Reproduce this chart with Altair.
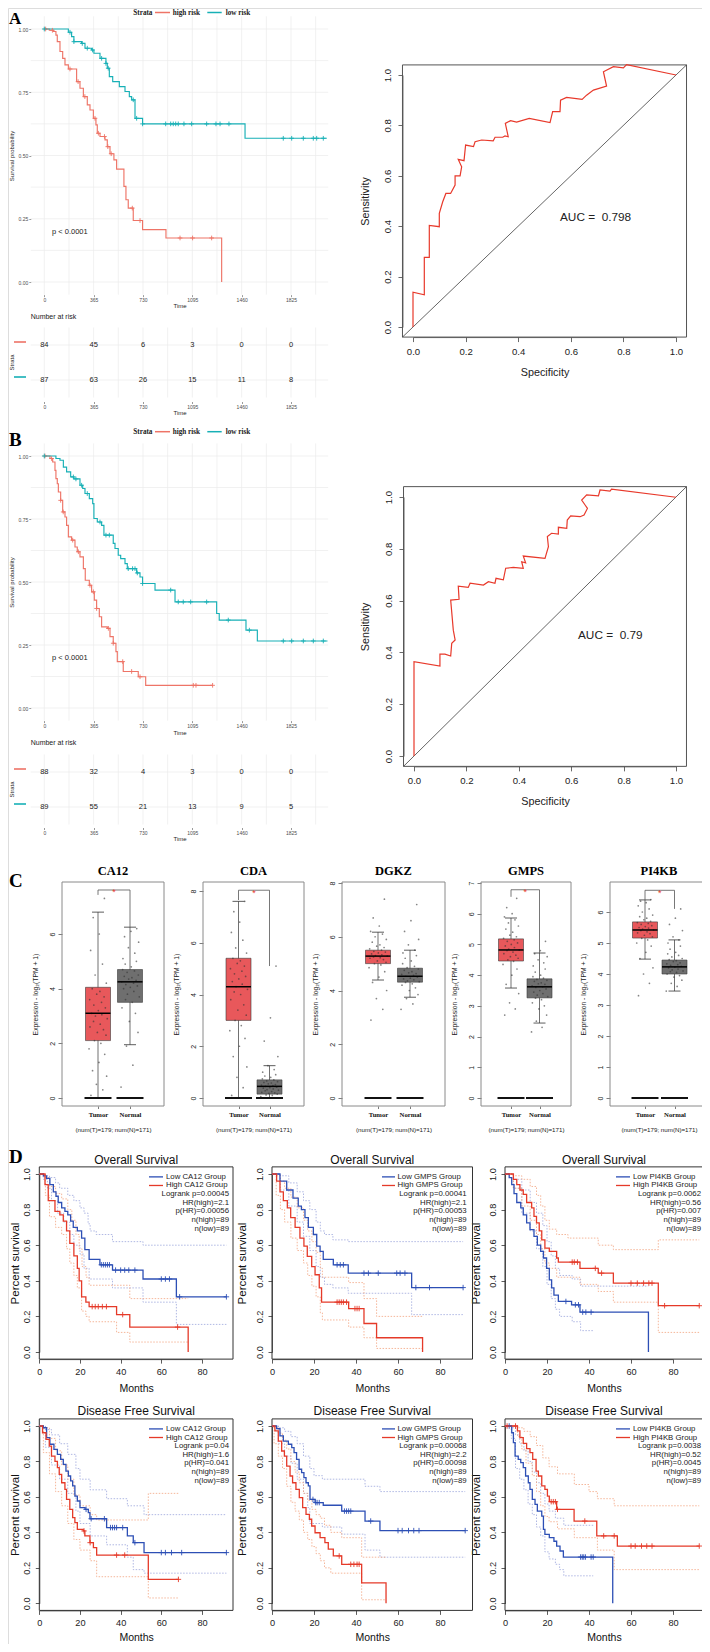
import altair as alt
import pandas as pd

# ======================= DATA =======================
# ---- Panels A / B : Kaplan-Meier (days) ----
KM_TICKS = [0, 365, 730, 1095, 1460, 1825]
KM_SURV_TICKS = [0, 0.25, 0.5, 0.75, 1.0]
STRATA = ["high risk", "low risk"]

A_high = [(0, 1.0), (37, 0.995), (67, 0.99), (86, 0.976), (96, 0.95), (116, 0.911), (136, 0.884), (153, 0.858),
          (178, 0.842), (239, 0.792), (264, 0.766), (289, 0.733), (318, 0.70), (338, 0.68), (363, 0.647),
          (382, 0.621), (392, 0.588), (412, 0.575), (449, 0.562), (466, 0.535), (486, 0.507), (515, 0.483),
          (535, 0.446), (589, 0.378), (604, 0.325), (621, 0.292), (658, 0.243), (727, 0.207), (900, 0.174),
          (1312, 0.0)]
A_high_cens = [10, 60, 190, 250, 300, 375, 400, 445, 470, 495, 651, 708, 1004, 1097, 1238]
A_low = [(0, 1.0), (178, 0.987), (202, 0.97), (219, 0.95), (276, 0.943), (301, 0.924), (350, 0.917), (367, 0.904),
         (412, 0.884), (456, 0.864), (466, 0.845), (481, 0.812), (506, 0.792), (555, 0.772), (597, 0.753),
         (629, 0.733), (646, 0.72), (671, 0.647), (727, 0.625), (1485, 0.568), (2090, 0.568)]
A_low_cens = [0, 190, 219, 281, 318, 357, 424, 456, 473, 658, 683, 727, 898, 935, 954, 972, 991, 1033, 1090, 1201,
              1270, 1300, 1366, 1768, 1830, 1916, 1990, 2015, 2064]
A_risk_high = [84, 45, 6, 3, 0, 0]
A_risk_low = [87, 63, 26, 15, 11, 8]
A_pval = "p < 0.0001"

B_high = [(0, 1.0), (42, 0.99), (62, 0.976), (79, 0.943), (86, 0.91), (96, 0.89), (104, 0.857), (121, 0.824),
          (136, 0.778), (153, 0.758), (165, 0.725), (178, 0.679), (202, 0.666), (227, 0.639), (244, 0.62),
          (264, 0.60), (289, 0.553), (303, 0.507), (333, 0.487), (350, 0.461), (370, 0.428), (387, 0.395),
          (407, 0.362), (424, 0.322), (466, 0.316), (486, 0.283), (510, 0.257), (530, 0.224), (540, 0.184),
          (584, 0.145), (695, 0.124), (750, 0.09), (1245, 0.09)]
B_high_cens = [5, 54, 121, 140, 210, 252, 338, 363, 387, 474, 510, 580, 646, 708, 1102, 1122, 1245]
B_low = [(0, 1.0), (86, 0.99), (116, 0.983), (141, 0.956), (165, 0.937), (195, 0.917), (219, 0.909), (264, 0.884),
         (284, 0.871), (301, 0.851), (333, 0.831), (358, 0.811), (367, 0.752), (392, 0.738), (424, 0.725),
         (441, 0.686), (510, 0.653), (523, 0.633), (547, 0.606), (565, 0.593), (597, 0.573), (614, 0.553),
         (683, 0.536), (708, 0.52), (727, 0.494), (819, 0.468), (967, 0.421), (1275, 0.375), (1294, 0.349),
         (1492, 0.309), (1576, 0.266), (2095, 0.266)]
B_low_cens = [0, 215, 234, 276, 318, 412, 456, 481, 621, 653, 671, 688, 727, 935, 991, 1028, 1083, 1201, 1361,
              1517, 1768, 1830, 1916, 1990, 2064]
B_risk_high = [88, 32, 4, 3, 0, 0]
B_risk_low = [89, 55, 21, 13, 9, 5]
B_pval = "p < 0.0001"

# ---- ROC curves ----
ROC_TICKS = [0, 0.2, 0.4, 0.6, 0.8, 1.0]
ROC_A = [(0, 0), (0, 0.138), (0.043, 0.128), (0.043, 0.276), (0.062, 0.276), (0.062, 0.403), (0.10, 0.398),
         (0.10, 0.451), (0.113, 0.497), (0.125, 0.53), (0.143, 0.53), (0.16, 0.563), (0.16, 0.60), (0.179, 0.60),
         (0.185, 0.636), (0.172, 0.665), (0.194, 0.66), (0.2, 0.722), (0.23, 0.716), (0.236, 0.735),
         (0.261, 0.742), (0.305, 0.739), (0.312, 0.753), (0.341, 0.753), (0.35, 0.758), (0.362, 0.755),
         (0.351, 0.808), (0.371, 0.819), (0.394, 0.813), (0.442, 0.828), (0.521, 0.811), (0.531, 0.855),
         (0.559, 0.855), (0.561, 0.90), (0.584, 0.911), (0.643, 0.903), (0.66, 0.92), (0.686, 0.94),
         (0.736, 0.956), (0.724, 1.013), (0.762, 1.033), (0.8, 1.028), (0.812, 1.041), (1.0, 1.0)]
AUC_A = "AUC = \u00a00.798"
ROC_B = [(0, 0), (0, 0.364), (0.099, 0.347), (0.099, 0.393), (0.118, 0.393), (0.14, 0.386), (0.144, 0.435),
         (0.157, 0.448), (0.15, 0.486), (0.14, 0.602), (0.172, 0.605), (0.169, 0.656), (0.207, 0.651),
         (0.214, 0.667), (0.265, 0.66), (0.284, 0.673), (0.309, 0.667), (0.313, 0.686), (0.341, 0.68),
         (0.35, 0.725), (0.379, 0.728), (0.417, 0.725), (0.411, 0.75), (0.426, 0.746), (0.417, 0.772),
         (0.5, 0.763), (0.513, 0.808), (0.509, 0.847), (0.525, 0.86), (0.551, 0.857), (0.551, 0.883),
         (0.583, 0.879), (0.585, 0.911), (0.598, 0.927), (0.634, 0.924), (0.649, 0.93), (0.662, 0.956),
         (0.653, 0.969), (0.64, 0.988), (0.659, 1.008), (0.704, 1.004), (0.71, 1.027), (0.748, 1.023),
         (0.754, 1.03), (1.0, 0.999)]
AUC_B = "AUC = \u00a00.79"

# ---- Panel C : expression box plots  (q1, median, q3, whisker_low, whisker_high) ----
C_XLABEL = "(num(T)=179; num(N)=171)"
C_YLABEL = "Expression - log\u2082(TPM + 1)"
CA12_T = (2.1, 3.1, 4.05, 0.0, 6.8)
CA12_N = (3.5, 4.25, 4.7, 1.95, 6.25)
CDA_T = (3.0, 4.3, 5.4, 0.0, 7.6)
CDA_N = (0.15, 0.45, 0.7, 0.0, 1.25)
DGKZ_T = (5.0, 5.28, 5.5, 4.39, 6.17)
DGKZ_N = (4.31, 4.53, 4.83, 3.75, 5.5)
GMPS_T = (4.46, 4.82, 5.18, 3.58, 5.86)
GMPS_N = (3.26, 3.62, 3.88, 2.44, 4.72)
PI4KB_T = (5.16, 5.42, 5.68, 4.48, 6.39)
PI4KB_N = (4.0, 4.23, 4.45, 3.45, 5.1)

CA12_T_pts = [0.1, 0.3, 0.5, 0.8, 1.0, 1.3, 1.6, 1.8, 2.0, 2.1, 2.3, 2.4, 2.5, 2.6, 2.7, 2.8, 2.9, 3.0, 3.05, 3.1,
              3.2, 3.3, 3.4, 3.5, 3.6, 3.7, 3.8, 3.9, 4.0, 4.2, 4.5, 4.9, 5.4, 6.0, 6.6, 7.3]
CA12_N_pts = [0.4, 1.2, 1.9, 2.4, 2.8, 3.1, 3.3, 3.5, 3.6, 3.7, 3.8, 3.9, 4.0, 4.05, 4.1, 4.15, 4.2, 4.25, 4.3, 4.35,
              4.4, 4.45, 4.5, 4.6, 4.65, 4.7, 4.8, 4.9, 5.0, 5.1, 5.3, 5.5, 5.7, 5.9, 6.1, 6.2]
CDA_T_pts = [0.1, 0.4, 0.8, 1.2, 1.6, 2.0, 2.3, 2.6, 2.8, 3.0, 3.2, 3.4, 3.6, 3.8, 4.0, 4.1, 4.2, 4.3, 4.4, 4.5,
             4.6, 4.7, 4.8, 4.9, 5.0, 5.1, 5.2, 5.3, 5.4, 5.6, 5.8, 6.1, 6.4, 6.8, 7.2, 7.6]
CDA_N_pts = [0.05, 0.1, 0.12, 0.15, 0.18, 0.2, 0.22, 0.25, 0.28, 0.3, 0.32, 0.35, 0.38, 0.4, 0.42, 0.45, 0.48, 0.5,
             0.52, 0.55, 0.58, 0.6, 0.63, 0.66, 0.7, 0.74, 0.8, 0.85, 0.9, 1.0, 1.1, 1.25, 1.6, 2.2, 3.1, 5.1]
DGKZ_T_pts = [2.9, 3.3, 3.7, 4.0, 4.3, 4.5, 4.7, 4.85, 4.95, 5.0, 5.05, 5.1, 5.15, 5.2, 5.22, 5.25, 5.28, 5.3, 5.33,
              5.36, 5.4, 5.43, 5.46, 5.5, 5.55, 5.6, 5.65, 5.7, 5.8, 5.9, 6.0, 6.1, 6.2, 6.4, 6.7, 7.4]
DGKZ_N_pts = [3.3, 3.5, 3.7, 3.85, 4.0, 4.1, 4.2, 4.25, 4.3, 4.33, 4.36, 4.4, 4.43, 4.46, 4.5, 4.53, 4.56, 4.6, 4.63,
              4.66, 4.7, 4.75, 4.8, 4.85, 4.9, 5.0, 5.1, 5.2, 5.3, 5.4, 5.5, 5.7, 5.9, 6.2, 6.6, 7.2]
GMPS_T_pts = [2.7, 2.9, 3.1, 3.4, 3.7, 4.0, 4.2, 4.35, 4.45, 4.5, 4.55, 4.6, 4.65, 4.7, 4.75, 4.8, 4.82, 4.85, 4.9,
              4.95, 5.0, 5.05, 5.1, 5.15, 5.2, 5.25, 5.3, 5.4, 5.5, 5.6, 5.7, 5.8, 5.9, 6.0, 6.2, 6.5]
GMPS_N_pts = [2.15, 2.3, 2.5, 2.7, 2.9, 3.0, 3.1, 3.2, 3.25, 3.3, 3.35, 3.4, 3.45, 3.5, 3.55, 3.6, 3.62, 3.65, 3.7,
              3.72, 3.75, 3.8, 3.83, 3.86, 3.9, 3.95, 4.0, 4.1, 4.2, 4.3, 4.4, 4.5, 4.6, 4.7, 4.8, 5.1]
PI4KB_T_pts = [3.3, 3.7, 4.0, 4.2, 4.5, 4.7, 4.9, 5.0, 5.1, 5.15, 5.2, 5.25, 5.3, 5.33, 5.36, 5.4, 5.42, 5.45, 5.48,
               5.5, 5.53, 5.56, 5.6, 5.63, 5.66, 5.7, 5.75, 5.8, 5.85, 5.9, 6.0, 6.1, 6.2, 6.3, 6.35, 6.4]
PI4KB_N_pts = [3.45, 3.6, 3.7, 3.8, 3.9, 3.95, 4.0, 4.05, 4.08, 4.1, 4.13, 4.16, 4.2, 4.22, 4.25, 4.28, 4.3, 4.33,
               4.36, 4.4, 4.43, 4.46, 4.5, 4.55, 4.6, 4.65, 4.7, 4.8, 4.9, 5.0, 5.1, 5.2, 5.4, 5.6, 5.8, 6.1]
JIT = [-0.22, 0.15, -0.05, 0.27, -0.17, 0.03, 0.21, -0.28, 0.09, -0.11, 0.25, -0.02, 0.17, -0.25, 0.07, -0.14,
       0.29, -0.08, 0.12, -0.2, 0.01, 0.23, -0.13, 0.11, -0.26, 0.19, -0.04, 0.06, -0.18, 0.26, -0.09, 0.14,
       -0.23, 0.04, -0.15, 0.2]
# significance brackets: (bracket level, left end, right end)
CA12_SIG = (7.61, 7.43, 6.25)
CDA_SIG = (8.03, 7.65, 5.1)
GMPS_SIG = (6.78, 6.55, 4.72)
PI4KB_SIG = (6.7, 6.39, 6.1)
CA12_TICKS = [0, 2, 4, 6]
CDA_TICKS = [0, 2, 4, 6, 8]
DGKZ_TICKS = [0, 2, 4, 6, 8]
GMPS_TICKS = [0, 1, 2, 3, 4, 5, 6, 7]
PI4KB_TICKS = [0, 1, 2, 3, 4, 5, 6]

# ---- Panel D : GEPIA survival (months) ----
D_XTICKS = [0, 20, 40, 60, 80]
D_YTICKS = [0, 0.2, 0.4, 0.6, 0.8, 1.0]

OS_CA12_low = [(0, 1.0), (2, 0.99), (3.6, 0.975), (5.2, 0.94), (6.9, 0.90), (8.2, 0.875), (9.3, 0.84), (11, 0.81),
               (12.6, 0.79), (14, 0.77), (15.4, 0.735), (16.7, 0.70), (18.7, 0.68), (20.8, 0.64), (22.4, 0.575),
               (24.5, 0.52), (29.8, 0.49), (36, 0.46), (51, 0.41), (67.4, 0.31), (92, 0.31)]
OS_CA12_high = [(0, 1.0), (2.8, 0.94), (4.4, 0.85), (7.7, 0.79), (10.1, 0.77), (11.8, 0.735), (13.4, 0.68),
                (15, 0.61), (17, 0.54), (18.7, 0.47), (19.6, 0.40), (20.8, 0.31), (22.9, 0.28), (24.5, 0.255),
                (38, 0.21), (44.5, 0.14), (73.2, 0.0)]
OS_CA12_low_cens = [30.5, 31.5, 32.5, 33.5, 34.5, 37.5, 40, 42, 44, 47, 60, 62, 64, 69, 92]
OS_CA12_high_cens = [26, 27.5, 29, 31, 33, 41, 68]
OS_CA12_low_up = [(0, 1), (3, 0.99), (5, 0.98), (8, 0.95), (10, 0.92), (14, 0.88), (17, 0.85), (20, 0.81),
                  (22, 0.78), (24, 0.72), (25, 0.68), (28, 0.66), (36, 0.62), (51, 0.60), (92, 0.60)]
OS_CA12_low_lo = [(0, 1), (2, 0.97), (4, 0.92), (6, 0.85), (9, 0.78), (12, 0.73), (15, 0.66), (17, 0.60),
                  (20, 0.55), (22, 0.47), (24.5, 0.41), (36, 0.36), (51, 0.28), (67.4, 0.155), (92, 0.155)]
OS_CA12_high_up = [(0, 1), (3, 0.98), (5, 0.93), (8, 0.89), (11, 0.86), (14, 0.80), (16, 0.74), (18, 0.66),
                   (19.6, 0.58), (21, 0.48), (23, 0.42), (24.5, 0.375), (44.5, 0.30), (73.2, 0.30)]
OS_CA12_high_lo = [(0, 1), (3, 0.88), (5, 0.76), (8, 0.70), (11, 0.66), (13.4, 0.58), (15, 0.50), (17, 0.43),
                   (18.7, 0.36), (20.8, 0.23), (22.9, 0.20), (24.5, 0.17), (38, 0.11), (44.5, 0.056), (73.2, 0.056)]
OS_CA12_stats = ["Logrank p=0.00045", "HR(high)=2.1", "p(HR)=0.00056", "n(high)=89", "n(low)=89"]

OS_GMPS_low = [(0, 1.0), (3.8, 0.96), (7, 0.91), (10, 0.865), (12.5, 0.82), (14, 0.80), (15.7, 0.755),
               (17.3, 0.70), (19.7, 0.66), (21.3, 0.595), (22.9, 0.565), (24.4, 0.52), (29.2, 0.49),
               (36.3, 0.443), (66.5, 0.362), (91, 0.362)]
OS_GMPS_high = [(0, 1.0), (2.2, 0.96), (3.8, 0.90), (5.4, 0.85), (7.3, 0.81), (8.9, 0.755), (11, 0.70),
                (13.3, 0.64), (15.2, 0.595), (16.8, 0.537), (18.9, 0.48), (20.5, 0.434), (22.5, 0.36),
                (23.6, 0.28), (36.5, 0.244), (43.8, 0.16), (49.8, 0.08), (71.7, 0.0)]
OS_GMPS_low_cens = [31, 32.5, 34, 43.8, 45.9, 50.6, 59.4, 61, 63.3, 68.5, 75, 91]
OS_GMPS_high_cens = [31, 32, 33, 34, 35.5, 39.5, 40.5, 41.5]
OS_GMPS_low_up = [(0, 1), (4, 0.99), (8, 0.95), (12, 0.90), (15, 0.85), (18, 0.80), (21, 0.73), (23, 0.68),
                  (25, 0.66), (29, 0.63), (36.3, 0.62), (91, 0.62)]
OS_GMPS_low_lo = [(0, 1), (4, 0.91), (8, 0.82), (12, 0.73), (15, 0.65), (18, 0.57), (21, 0.48), (23, 0.42),
                  (25, 0.38), (29, 0.36), (36.3, 0.33), (66.5, 0.21), (91, 0.21)]
OS_GMPS_high_up = [(0, 1), (2, 0.99), (4, 0.96), (6, 0.92), (9, 0.87), (12, 0.81), (15, 0.74), (17, 0.68),
                   (19, 0.62), (21, 0.56), (23, 0.47), (24, 0.42), (36.5, 0.39), (43.8, 0.30), (49.8, 0.20),
                   (71.7, 0.20)]
OS_GMPS_high_lo = [(0, 1), (2, 0.88), (4, 0.80), (6, 0.73), (9, 0.64), (12, 0.57), (15, 0.50), (17, 0.43),
                   (19, 0.37), (21, 0.31), (23, 0.22), (24, 0.18), (36.5, 0.14), (43.8, 0.08), (49.8, 0.02),
                   (71.7, 0.02)]
OS_GMPS_stats = ["Logrank p=0.00041", "HR(high)=2.1", "p(HR)=0.00053", "n(high)=89", "n(low)=89"]

OS_PI4KB_low = [(0, 1.0), (2, 0.98), (3.2, 0.94), (4.3, 0.89), (5.6, 0.84), (7.5, 0.81), (8.7, 0.77),
                (10.3, 0.725), (11.9, 0.687), (13.8, 0.65), (15.4, 0.60), (17, 0.565), (18.3, 0.528),
                (19.8, 0.47), (21.1, 0.405), (22.2, 0.36), (23.3, 0.32), (25.4, 0.284), (31.7, 0.265),
                (35.7, 0.224), (68.3, 0.0)]
OS_PI4KB_high = [(0, 1.0), (4, 0.97), (5.6, 0.94), (7.1, 0.91), (8.7, 0.885), (10.3, 0.84), (12.7, 0.81),
                 (13.8, 0.762), (15, 0.725), (16.3, 0.68), (17.5, 0.63), (19, 0.584), (21.1, 0.565),
                 (24.6, 0.528), (25.4, 0.505), (35.7, 0.47), (44.4, 0.443), (51.6, 0.387), (73, 0.26),
                 (92.5, 0.26)]
OS_PI4KB_low_cens = [29, 33.5, 35, 37, 38.5, 41]
OS_PI4KB_high_cens = [32, 33, 34.5, 43, 46, 60, 63, 66, 68.5, 70, 76, 92.5]
OS_PI4KB_low_up = [(0, 1), (4, 0.97), (8, 0.91), (12, 0.84), (15, 0.78), (18, 0.71), (20, 0.62), (22, 0.54),
                   (24, 0.47), (26, 0.43), (32, 0.41), (36, 0.37), (68.3, 0.37)]
OS_PI4KB_low_lo = [(0, 1), (4, 0.92), (8, 0.78), (12, 0.68), (15, 0.58), (18, 0.48), (20, 0.38), (22, 0.30),
                   (24, 0.24), (26, 0.20), (32, 0.17), (36, 0.12), (42, 0.12)]
OS_PI4KB_high_up = [(0, 1), (4, 0.99), (8, 0.97), (12, 0.93), (15, 0.88), (17, 0.82), (19, 0.74), (21.1, 0.69),
                    (24.6, 0.66), (30, 0.64), (44.4, 0.60), (51.6, 0.575), (73, 0.63), (92.5, 0.63)]
OS_PI4KB_high_lo = [(0, 1), (4, 0.92), (8, 0.82), (12, 0.74), (15, 0.66), (17, 0.58), (19, 0.50), (21.1, 0.47),
                    (24.6, 0.42), (35.7, 0.38), (44.4, 0.34), (51.6, 0.28), (73, 0.11), (92.5, 0.11)]
OS_PI4KB_stats = ["Logrank p=0.0062", "HR(high)=0.56", "p(HR)=0.007", "n(high)=89", "n(low)=89"]

DFS_CA12_low = [(0, 1.0), (2, 0.99), (3.6, 0.935), (5.2, 0.897), (7.2, 0.868), (8.9, 0.84), (10.5, 0.812),
                (11.8, 0.784), (13.1, 0.746), (14.3, 0.718), (15.4, 0.69), (16.4, 0.662), (17.5, 0.605),
                (18.7, 0.577), (20, 0.54), (22.5, 0.53), (24.1, 0.511), (24.9, 0.477), (33.1, 0.427),
                (43.3, 0.38), (46.2, 0.342), (51.5, 0.286), (92, 0.286)]
DFS_CA12_high = [(0, 1.0), (1.6, 0.962), (3.3, 0.925), (4.9, 0.887), (6, 0.83), (7.7, 0.80), (8.9, 0.765),
                 (9.8, 0.727), (11, 0.68), (12.6, 0.643), (13.4, 0.586), (15, 0.53), (16.4, 0.483),
                 (17.5, 0.455), (18.7, 0.417), (21.6, 0.408), (22.4, 0.38), (24.9, 0.342), (26.6, 0.314),
                 (28.2, 0.272), (53.6, 0.135), (68.4, 0.135)]
DFS_CA12_low_cens = [23, 25.5, 32, 35, 36, 37, 38, 41, 47, 60, 62, 65, 70, 92]
DFS_CA12_high_cens = [22, 25, 38, 42, 68.4]
DFS_CA12_low_up = [(0, 1), (3, 0.98), (6, 0.95), (10, 0.90), (14, 0.84), (18, 0.76), (20, 0.70), (25, 0.64),
                   (33.1, 0.59), (43.3, 0.55), (51.5, 0.50), (92, 0.50)]
DFS_CA12_low_lo = [(0, 1), (3, 0.88), (6, 0.78), (10, 0.70), (14, 0.62), (18, 0.52), (20, 0.45), (25, 0.38),
                   (33.1, 0.33), (43.3, 0.26), (46.2, 0.19), (51.5, 0.17), (92, 0.17)]
DFS_CA12_high_up = [(0, 1), (2, 0.99), (5, 0.93), (8, 0.86), (11, 0.78), (14, 0.70), (17, 0.61), (20, 0.55),
                    (25, 0.50), (28.2, 0.47), (53.6, 0.62), (68.4, 0.62)]
DFS_CA12_high_lo = [(0, 1), (2, 0.85), (5, 0.73), (8, 0.63), (11, 0.55), (14, 0.45), (17, 0.36), (20, 0.30),
                    (25, 0.24), (28.2, 0.15), (53.6, 0.03), (68.4, 0.03)]
DFS_CA12_stats = ["Logrank p=0.04", "HR(high)=1.6", "p(HR)=0.041", "n(high)=89", "n(low)=89"]

DFS_GMPS_low = [(0, 1.0), (2.2, 0.985), (3.8, 0.944), (5.4, 0.915), (7.8, 0.897), (9.4, 0.878), (10.5, 0.85),
                (11.7, 0.812), (12.9, 0.756), (14.1, 0.737), (15.2, 0.709), (16.2, 0.68), (17.3, 0.662),
                (18.1, 0.586), (20.5, 0.568), (24.4, 0.553), (33.2, 0.52), (44.3, 0.464), (51.4, 0.41),
                (92, 0.41)]
DFS_GMPS_high = [(0, 1.0), (1.4, 0.972), (3, 0.915), (4.6, 0.859), (5.9, 0.83), (7, 0.774), (8.6, 0.718),
                 (9.8, 0.68), (11.4, 0.643), (13, 0.596), (14.6, 0.54), (16.2, 0.502), (17.8, 0.474),
                 (18.9, 0.436), (20.5, 0.398), (22.9, 0.37), (25.2, 0.342), (26.8, 0.305), (29.2, 0.267),
                 (33.2, 0.22), (42.7, 0.115), (54.3, 0.0)]
DFS_GMPS_low_cens = [19.5, 20.8, 21.5, 22.5, 34.5, 35.5, 36.5, 37.5, 47, 60, 62, 65, 67.5, 70, 92]
DFS_GMPS_high_cens = [32, 37.5, 39, 40.5, 41.5]
DFS_GMPS_low_up = [(0, 1), (3, 0.99), (6, 0.97), (9, 0.94), (12, 0.90), (15, 0.83), (18, 0.76), (20, 0.72),
                   (24, 0.70), (40, 0.70), (44.3, 0.66), (51.4, 0.63), (92, 0.63)]
DFS_GMPS_low_lo = [(0, 1), (3, 0.90), (6, 0.83), (9, 0.79), (12, 0.70), (15, 0.62), (17, 0.54), (18, 0.45),
                   (24, 0.43), (33.2, 0.39), (44.3, 0.30), (51.4, 0.26), (92, 0.26)]
DFS_GMPS_high_up = [(0, 1), (1, 0.99), (3, 0.96), (5, 0.92), (7, 0.87), (9, 0.80), (11, 0.74), (13, 0.68),
                    (15, 0.62), (17, 0.58), (19, 0.53), (21, 0.50), (23, 0.48), (25, 0.44), (28, 0.40),
                    (33.2, 0.37), (42.7, 0.26), (54.3, 0.26)]
DFS_GMPS_high_lo = [(0, 1), (1, 0.90), (3, 0.83), (5, 0.76), (7, 0.66), (9, 0.57), (11, 0.52), (13, 0.47),
                    (15, 0.40), (17, 0.36), (19, 0.32), (21, 0.28), (23, 0.24), (25, 0.20), (28, 0.17),
                    (42.7, 0.02), (54.3, 0.02)]
DFS_GMPS_stats = ["Logrank p=0.00068", "HR(high)=2.2", "p(HR)=0.00098", "n(high)=89", "n(low)=89"]

DFS_PI4KB_low = [(0, 1.0), (3.2, 0.962), (4, 0.906), (4.8, 0.83), (6.3, 0.812), (7.5, 0.793), (8.7, 0.765),
                 (9.8, 0.718), (11.1, 0.68), (11.9, 0.643), (13, 0.586), (14.3, 0.558), (15.4, 0.52),
                 (17.5, 0.492), (18.3, 0.417), (19, 0.389), (21.1, 0.37), (23.3, 0.35), (24.6, 0.323),
                 (26.2, 0.295), (27.8, 0.261), (51.3, 0.0)]
DFS_PI4KB_high = [(0, 1.0), (5.9, 0.972), (7.1, 0.934), (8.7, 0.902), (10.3, 0.872), (11.9, 0.85),
                  (13.2, 0.812), (14.8, 0.746), (15.9, 0.718), (17.5, 0.662), (19, 0.643), (20.2, 0.605),
                  (21.1, 0.573), (24.6, 0.53), (32.9, 0.464), (43.7, 0.38), (53.5, 0.323), (92.5, 0.323)]
DFS_PI4KB_low_cens = [2, 36, 36.8, 37.5, 38.3, 41, 42]
DFS_PI4KB_high_cens = [1, 5, 22, 23, 24, 25, 38, 47, 52, 60, 62, 65, 67.5, 70, 92.5]
DFS_PI4KB_low_up = [(0, 1), (3, 0.99), (5, 0.95), (7, 0.90), (9, 0.86), (11, 0.80), (13, 0.74), (15, 0.68),
                    (17, 0.62), (19, 0.56), (21, 0.52), (24, 0.48), (28, 0.44), (42, 0.44)]
DFS_PI4KB_low_lo = [(0, 1), (3, 0.93), (5, 0.76), (7, 0.70), (9, 0.64), (11, 0.56), (13, 0.50), (15, 0.43),
                    (17, 0.38), (19, 0.29), (21, 0.25), (24, 0.22), (26, 0.19), (28, 0.155), (42, 0.155)]
DFS_PI4KB_high_up = [(0, 1), (6, 0.99), (9, 0.97), (12, 0.94), (15, 0.89), (18, 0.82), (21, 0.77), (25, 0.73),
                     (33, 0.67), (40, 0.63), (44, 0.59), (52, 0.55), (92.5, 0.55)]
DFS_PI4KB_high_lo = [(0, 1), (6, 0.94), (8, 0.87), (10, 0.79), (13, 0.72), (15, 0.63), (17, 0.55), (19, 0.49),
                     (21, 0.46), (25, 0.42), (33, 0.37), (44, 0.30), (52, 0.19), (92.5, 0.19)]
DFS_PI4KB_stats = ["Logrank p=0.0038", "HR(high)=0.52", "p(HR)=0.0045", "n(high)=89", "n(low)=89"]

# ======================= STYLE / LAYOUT =======================
W, H = 694, 1636
OFF = 8
FONT = "Liberation Sans"
SERIF = "Liberation Serif"
GG_RED, GG_TEAL = "#EE7467", "#17B0B6"
GRID = "#EBEBEB"
BLUE, RED = "#2D4FB5", "#E53A29"
CI_BLUE, CI_RED = "#9CA6DC", "#F3A582"
ROC_RED = "#E8392B"
TUMOR_FILL, NORMAL_FILL = "#E8585B", "#6F6F6F"
PLUS = "M-1,0L1,0M0,-1L0,1"

layers = []


def S(d0, d1, p0, p1):
    return alt.Scale(domain=[d0, d1], range=[p0 - OFF, p1 - OFF], nice=False, zero=False)


def off_bottom(py):
    return (py - OFF) - H


def off_left(pxv):
    return -(pxv - OFF)


def label(text, x, y, size, align="left", baseline="middle", font=FONT, weight="normal",
          color="#222222", angle=None, lh=None):
    kw = dict(align=align, baseline=baseline, font=font, fontSize=size, fontWeight=weight, color=color)
    if angle is not None:
        kw["angle"] = angle
    if lh is not None:
        kw["lineBreak"] = "\n"
        kw["lineHeight"] = lh
    return alt.Chart(pd.DataFrame({"txt": [text]})).mark_text(**kw).encode(
        x=alt.value(x - OFF), y=alt.value(y - OFF), text="txt:N")


def hline(x1, x2, y, color, width):
    return alt.Chart(pd.DataFrame({"a": [0]})).mark_rule(color=color, strokeWidth=width).encode(
        x=alt.value(x1 - OFF), x2=alt.value(x2 - OFF), y=alt.value(y - OFF))


def step_val(curve, t):
    v = curve[0][1]
    for ti, si in curve:
        if ti <= t:
            v = si
        else:
            break
    return v


# ---------------- ggsurvplot panels (A, B) ----------------
def km_gg(high, low, hcens, lcens, risk_h, risk_l, pval, G, letter):
    X = lambda: S(0, 1825, 44.3, 291.0)
    Y = lambda: S(0, 1, G["y0"], G["y1"])
    TY = lambda: S(0, 1, G["tab_low"], G["tab_high"])
    ppu = G["y0"] - G["y1"]
    pb = G["y0"] + 0.05 * ppu
    pt = G["y1"] - 0.05 * ppu
    gx = []
    for t in KM_TICKS:
        gx += [t, t + 182.5]
    gs = [i * 0.125 for i in range(9)]
    L = []
    L.append(alt.Chart(pd.DataFrame({"t": gx, "a": -0.05, "b": 1.05})).mark_rule(color=GRID, strokeWidth=0.7).encode(
        x=alt.X("t:Q", scale=X(), axis=None), y=alt.Y("a:Q", scale=Y(), axis=None), y2="b:Q"))
    L.append(alt.Chart(pd.DataFrame({"s": gs, "a": -100, "b": 2100})).mark_rule(color=GRID, strokeWidth=0.7).encode(
        y=alt.Y("s:Q", scale=Y(), axis=None), x=alt.X("a:Q", scale=X(), axis=None), x2="b:Q"))
    common = dict(grid=False, domain=False, tickSize=2, tickColor="#555555", tickWidth=0.6, labelFont=FONT,
                  labelFontSize=5, labelColor="#4D4D4D", labelFlush=False, labelOverlap=False, titleFont=FONT,
                  titleFontWeight="normal", titleColor="#222222", titleAlign="center", titleBaseline="middle")
    xaxis = alt.Axis(orient="bottom", offset=off_bottom(pb), values=KM_TICKS, format="d", labelPadding=0.5,
                     title="Time", titleFontSize=6, titleX=179.5 - OFF, titleY=G["time_y"] - pb, **common)
    yaxis = alt.Axis(orient="left", offset=off_left(30.8), values=KM_SURV_TICKS, format=".2f", labelPadding=1,
                     title="Survival probability", titleFontSize=6, titleX=11.8 - 30.8,
                     titleY=(pb + pt) / 2 - OFF, titleAngle=270, **common)
    col = alt.Color("grp:N", scale=alt.Scale(domain=STRATA, range=[GG_RED, GG_TEAL]), legend=None)
    rows = [dict(t=t, s=s, grp=STRATA[0]) for t, s in high] + [dict(t=t, s=s, grp=STRATA[1]) for t, s in low]
    L.append(alt.Chart(pd.DataFrame(rows)).mark_line(interpolate="step-after", strokeWidth=1.15).encode(
        x=alt.X("t:Q", scale=X(), axis=xaxis), y=alt.Y("s:Q", scale=Y(), axis=yaxis), color=col))
    crow = [dict(t=t, s=step_val(high, t), grp=STRATA[0]) for t in hcens] + \
           [dict(t=t, s=step_val(low, t), grp=STRATA[1]) for t in lcens]
    L.append(alt.Chart(pd.DataFrame(crow)).mark_point(shape=PLUS, filled=False, size=22, strokeWidth=0.9,
                                                       opacity=1).encode(
        x=alt.X("t:Q", scale=X(), axis=None), y=alt.Y("s:Q", scale=Y(), axis=None), color=col))
    L.append(label(pval, 52, G["p_y"], 7.5))
    # legend on top
    ly = G["leg_y"]
    L.append(label("Strata", 133.3, ly, 7.2, font=SERIF, weight="bold"))
    L.append(hline(155, 170, ly, GG_RED, 1.5))
    L.append(label("high risk", 172.7, ly, 7.2, font=SERIF, weight="bold"))
    L.append(hline(207.3, 221.7, ly, GG_TEAL, 1.5))
    L.append(label("low risk", 225.7, ly, 7.2, font=SERIF, weight="bold"))
    L.append(label(letter, 9.0, G["letter_y"], G["letter_size"], font=SERIF, weight="bold", baseline="alphabetic",
                   color="#000000"))
    # risk table
    L.append(alt.Chart(pd.DataFrame({"t": gx, "a": -0.5, "b": 1.5})).mark_rule(color=GRID, strokeWidth=0.7).encode(
        x=alt.X("t:Q", scale=X(), axis=None), y=alt.Y("a:Q", scale=TY(), axis=None), y2="b:Q"))
    L.append(alt.Chart(pd.DataFrame({"r": [0, 1], "a": -100, "b": 2100})).mark_rule(color=GRID, strokeWidth=0.7).encode(
        y=alt.Y("r:Q", scale=TY(), axis=None), x=alt.X("a:Q", scale=X(), axis=None), x2="b:Q"))
    taxis = alt.Axis(orient="bottom", offset=off_bottom(G["tab_axis"]), values=KM_TICKS, format="d",
                     labelPadding=0.5, title="Time", titleFontSize=6, titleX=179.5 - OFF,
                     titleY=G["tab_time"] - G["tab_axis"], **common)
    trows = [dict(t=t, r=1, n=str(n)) for t, n in zip(KM_TICKS, risk_h)] + \
            [dict(t=t, r=0, n=str(n)) for t, n in zip(KM_TICKS, risk_l)]
    L.append(alt.Chart(pd.DataFrame(trows)).mark_text(font=FONT, fontSize=7.5, color="#222222").encode(
        x=alt.X("t:Q", scale=X(), axis=taxis), y=alt.Y("r:Q", scale=TY(), axis=None), text="n:N"))
    L.append(label("Number at risk", 30.7, G["nar_y"], 7))
    L.append(label("Strata", 11.5, (G["tab_low"] + G["tab_high"]) / 2, 6, align="center", angle=270))
    L.append(hline(14, 26, G["tab_high"] - 3, GG_RED, 1.6))
    L.append(hline(14, 26, G["tab_low"] - 3, GG_TEAL, 1.6))
    return L


GA = dict(y0=282.0, y1=29.0, tab_low=380.0, tab_high=345.0, leg_y=12.5, p_y=232.0, nar_y=317.3,
          tab_axis=401.5, tab_time=412.0, time_y=305.0, letter_y=23.5, letter_size=17)
GB = dict(y0=708.0, y1=456.0, tab_low=807.0, tab_high=772.0, leg_y=431.7, p_y=658.0, nar_y=743.3,
          tab_axis=827.5, tab_time=838.0, time_y=732.0, letter_y=445.5, letter_size=19)
layers += km_gg(A_high, A_low, A_high_cens, A_low_cens, A_risk_high, A_risk_low, A_pval, GA, "A")
layers += km_gg(B_high, B_low, B_high_cens, B_low_cens, B_risk_high, B_risk_low, B_pval, GB, "B")


# ---------------- ROC panels ----------------
def roc(curve, auc, G):
    X = lambda: S(0, 1, G["x0"], G["x1"])
    Y = lambda: S(0, 1, G["y0"], G["y1"])
    ppx = G["x1"] - G["x0"]
    ppy = G["y0"] - G["y1"]
    left, right = G["x0"] - 0.04 * ppx, G["x1"] + 0.04 * ppx
    bottom, top = G["y0"] + 0.04 * ppy, G["y1"] - 0.04 * ppy
    common = dict(grid=False, domain=True, domainColor="#444444", domainWidth=0.8, tickSize=4.5,
                  tickColor="#444444", tickWidth=0.8, labelFont=FONT, labelFontSize=9.6, labelColor="#222222",
                  labelFlush=False, labelOverlap=False, titleFont=FONT, titleFontSize=10.8,
                  titleFontWeight="normal", titleColor="#222222", titleAlign="center", titleBaseline="middle",
                  values=ROC_TICKS, format=".1f")
    xaxis = alt.Axis(orient="bottom", offset=off_bottom(bottom), labelPadding=5, title="Specificity",
                     titleX=(left + right) / 2 - OFF, titleY=35, **common)
    yaxis = alt.Axis(orient="left", offset=off_left(left), labelAngle=270, labelAlign="center",
                     labelBaseline="bottom", labelPadding=5.5, title="Sensitivity", titleX=365 - left,
                     titleY=(top + bottom) / 2 - OFF, titleAngle=270, **common)
    L = []
    L.append(alt.Chart(pd.DataFrame({"x0": [-0.04], "x1": [1.04], "y0": [-0.04], "y1": [1.04]})).mark_rect(
        fillOpacity=0, stroke="#555555", strokeWidth=1).encode(
        x=alt.X("x0:Q", scale=X(), axis=xaxis), x2="x1:Q", y=alt.Y("y0:Q", scale=Y(), axis=yaxis), y2="y1:Q"))
    L.append(alt.Chart(pd.DataFrame({"x": [-0.04, 1.04], "y": [-0.04, 1.04]})).mark_line(
        color="#222222", strokeWidth=0.7).encode(
        x=alt.X("x:Q", scale=X(), axis=None), y=alt.Y("y:Q", scale=Y(), axis=None)))
    df = pd.DataFrame([dict(i=i, x=a, y=b) for i, (a, b) in enumerate(curve)])
    L.append(alt.Chart(df).mark_line(color=ROC_RED, strokeWidth=1.2).encode(
        x=alt.X("x:Q", scale=X(), axis=None), y=alt.Y("y:Q", scale=Y(), axis=None), order="i:Q"))
    L.append(label(auc, G["auc"][0], G["auc"][1], 11.8))
    return L


layers += roc(ROC_A, AUC_A, dict(x0=413.0, x1=676.0, y0=327.0, y1=75.0, auc=(560, 217)))
layers += roc(ROC_B, AUC_B, dict(x0=414.0, x1=676.0, y0=756.0, y1=497.0, auc=(578, 635)))


# ---------------- Panel C : box plots ----------------
def cpanel(name, tbox, nbox, tpts, npts, sig, ticks, G):
    tx, nx = G["tx"], G["nx"]
    u = nx - tx
    top_v = ticks[-1]
    ppu = (1098.0 - G["top_px"]) / top_v
    X = lambda: S(1, 2, tx, nx)
    Y = lambda: S(0, top_v, 1098.0, G["top_px"])
    fx0, fx1 = 1 + (G["fl"] - tx) / u, 1 + (G["fr"] - tx) / u
    fy0, fy1 = -(1106.0 - 1098.0) / ppu, (1098.0 - 882.0) / ppu
    bw, cw, zw = 12.5 / u, 6.0 / u, 13.5 / u
    xaxis = alt.Axis(orient="bottom", offset=off_bottom(1106.0), values=[1, 2],
                     labelExpr="datum.value == 1 ? 'Tumor' : 'Normal'", grid=False, domain=False, tickSize=2.5,
                     tickColor="#444444", tickWidth=0.7, labelFont=SERIF, labelFontWeight="bold",
                     labelFontSize=6.7, labelColor="#111111", labelPadding=3, labelFlush=False,
                     labelOverlap=False, title=C_XLABEL, titleFont=FONT, titleFontSize=6.2,
                     titleFontWeight="normal", titleColor="#222222", titleX=(G["fl"] + G["fr"]) / 2 - OFF,
                     titleY=23, titleAlign="center", titleBaseline="middle")
    yaxis = alt.Axis(orient="left", offset=off_left(G["fl"]), values=ticks, format="d", grid=False,
                     domain=False, tickSize=4, tickColor="#444444", tickWidth=0.7, labelAngle=270,
                     labelAlign="center", labelBaseline="bottom", labelFont=FONT, labelFontSize=7,
                     labelColor="#222222", labelPadding=3, labelFlush=False, labelOverlap=False,
                     title=C_YLABEL, titleFont=FONT, titleFontSize=6.8, titleFontWeight="normal",
                     titleColor="#222222", titleX=-27, titleY=994 - OFF, titleAngle=270,
                     titleAlign="center", titleBaseline="middle")
    L = []
    L.append(alt.Chart(pd.DataFrame({"x0": [fx0], "x1": [fx1], "y0": [fy0], "y1": [fy1]})).mark_rect(
        fillOpacity=0, stroke="#8A8A8A", strokeWidth=1).encode(
        x=alt.X("x0:Q", scale=X(), axis=xaxis), x2="x1:Q", y=alt.Y("y0:Q", scale=Y(), axis=yaxis), y2="y1:Q"))
    box = pd.DataFrame([dict(g=g, grp=k, q1=b[0], med=b[1], q3=b[2], lo=b[3], hi=b[4], a=g - bw, b=g + bw)
                        for g, k, b in [(1, "Tumor", tbox), (2, "Normal", nbox)]])
    L.append(alt.Chart(box).mark_rule(color="#333333", strokeWidth=0.7).encode(
        x=alt.X("g:Q", scale=X(), axis=None), y=alt.Y("lo:Q", scale=Y(), axis=None), y2="hi:Q"))
    caps = pd.DataFrame([dict(a=g - cw, b=g + cw, y=v) for g, bx in [(1, tbox), (2, nbox)] for v in (bx[3], bx[4])])
    L.append(alt.Chart(caps).mark_rule(color="#333333", strokeWidth=0.8).encode(
        x=alt.X("a:Q", scale=X(), axis=None), x2="b:Q", y=alt.Y("y:Q", scale=Y(), axis=None)))
    L.append(alt.Chart(box).mark_rect(stroke="#3A3A3A", strokeWidth=0.6).encode(
        x=alt.X("a:Q", scale=X(), axis=None), x2="b:Q", y=alt.Y("q1:Q", scale=Y(), axis=None), y2="q3:Q",
        color=alt.Color("grp:N", scale=alt.Scale(domain=["Tumor", "Normal"], range=[TUMOR_FILL, NORMAL_FILL]),
                        legend=None)))
    pts = pd.DataFrame([dict(x=1 + JIT[i % len(JIT)], v=v) for i, v in enumerate(tpts)] +
                       [dict(x=2 + JIT[(i + 7) % len(JIT)], v=v) for i, v in enumerate(npts)])
    L.append(alt.Chart(pts).mark_circle(size=3, color="#333333", opacity=0.6).encode(
        x=alt.X("x:Q", scale=X(), axis=None), y=alt.Y("v:Q", scale=Y(), axis=None)))
    L.append(alt.Chart(box).mark_rule(color="#000000", strokeWidth=1.5).encode(
        x=alt.X("a:Q", scale=X(), axis=None), x2="b:Q", y=alt.Y("med:Q", scale=Y(), axis=None)))
    zero = pd.DataFrame([dict(a=g - zw, b=g + zw, y=0.0) for g in (1, 2)])
    L.append(alt.Chart(zero).mark_rule(color="#111111", strokeWidth=2).encode(
        x=alt.X("a:Q", scale=X(), axis=None), x2="b:Q", y=alt.Y("y:Q", scale=Y(), axis=None)))
    if sig is not None:
        br = pd.DataFrame([dict(a=1, b=2, y=sig[0], y2=sig[0]), dict(a=1, b=1, y=sig[1], y2=sig[0]),
                           dict(a=2, b=2, y=sig[2], y2=sig[0])])
        L.append(alt.Chart(br).mark_rule(color="#555555", strokeWidth=0.8).encode(
            x=alt.X("a:Q", scale=X(), axis=None), x2="b:Q", y=alt.Y("y:Q", scale=Y(), axis=None), y2="y2:Q"))
        L.append(alt.Chart(pd.DataFrame({"x": [1.5], "y": [sig[0]], "s": ["*"]})).mark_text(
            color=ROC_RED, fontSize=9, font=FONT, baseline="middle", dy=2.5).encode(
            x=alt.X("x:Q", scale=X(), axis=None), y=alt.Y("y:Q", scale=Y(), axis=None), text="s:N"))
    L.append(label(name, (G["fl"] + G["fr"]) / 2, 871, 12.5, align="center", font=SERIF, weight="bold",
                   color="#000000"))
    return L


C_GEO = {
    "CA12": dict(fl=62, fr=164, tx=98, nx=130, top_px=934),
    "CDA": dict(fl=203, fr=304, tx=238.5, nx=269.5, top_px=891),
    "DGKZ": dict(fl=342, fr=445, tx=378, nx=410, top_px=883),
    "GMPS": dict(fl=481, fr=571, tx=511, nx=539.5, top_px=883),
    "PI4KB": dict(fl=610, fr=708, tx=645, nx=674.5, top_px=912),
}
layers += cpanel("CA12", CA12_T, CA12_N, CA12_T_pts, CA12_N_pts, CA12_SIG, CA12_TICKS, C_GEO["CA12"])
layers += cpanel("CDA", CDA_T, CDA_N, CDA_T_pts, CDA_N_pts, CDA_SIG, CDA_TICKS, C_GEO["CDA"])
layers += cpanel("DGKZ", DGKZ_T, DGKZ_N, DGKZ_T_pts, DGKZ_N_pts, None, DGKZ_TICKS, C_GEO["DGKZ"])
layers += cpanel("GMPS", GMPS_T, GMPS_N, GMPS_T_pts, GMPS_N_pts, GMPS_SIG, GMPS_TICKS, C_GEO["GMPS"])
layers += cpanel("PI4KB", PI4KB_T, PI4KB_N, PI4KB_T_pts, PI4KB_N_pts, PI4KB_SIG, PI4KB_TICKS, C_GEO["PI4KB"])
layers.append(label("C", 9.0, 887.0, 19, font=SERIF, weight="bold", baseline="alphabetic", color="#000000"))


# ---------------- Panel D : GEPIA survival ----------------
D_COLS = [dict(c0=39.3, c80=202.0, fr=233.0, leg=(149, 163, 166, 229), ytx=-24.0),
          dict(c0=272.0, c80=440.0, fr=472.5, leg=(382, 395, 397.5, 466.7), ytx=-30.0),
          dict(c0=505.0, c80=673.0, fr=703.0, leg=(616, 630, 633, 701), ytx=-29.0)]
D_ROWS = [dict(y0=1352.0, y1=1174.0, ty=1160.0, mt=29.0),
          dict(y0=1603.3, y1=1426.0, ty=1411.0, mt=27.5)]
GRPS = ["low", "high"]
LEG_FS = 7.8


def dpanel(C, R, title, gene, low, high, lowc, highc, low_ci, high_ci, stats):
    X = lambda: S(0, 80, C["c0"], C["c80"])
    Y = lambda: S(0, 1, R["y0"], R["y1"])
    ppm = (C["c80"] - C["c0"]) / 80.0
    fr_m = (C["fr"] - C["c0"]) / ppm
    ppu = R["y0"] - R["y1"]
    fb, ft = R["y0"] + 0.04 * ppu, R["y1"] - 0.04 * ppu
    common = dict(grid=False, domain=True, domainColor="#333333", domainWidth=0.8, tickSize=4,
                  tickColor="#333333", tickWidth=0.8, labelFont=FONT, labelFontSize=9.2, labelColor="#222222",
                  labelFlush=False, labelOverlap=False, titleFont=FONT, titleFontWeight="normal",
                  titleColor="#111111", titleAlign="center", titleBaseline="middle")
    xaxis = alt.Axis(orient="bottom", offset=off_bottom(fb), values=D_XTICKS, format="d", labelPadding=4,
                     title="Months", titleFontSize=10.5, titleX=(C["c0"] + C["fr"]) / 2 - OFF, titleY=R["mt"],
                     **common)
    yaxis = alt.Axis(orient="left", offset=off_left(C["c0"]), values=D_YTICKS, format=".1f", labelAngle=270,
                     labelAlign="center", labelBaseline="bottom", labelPadding=3.5, title="Percent survival",
                     titleFontSize=11.5, titleX=C["ytx"], titleY=(fb + ft) / 2 - OFF, titleAngle=270, **common)
    L = []
    L.append(alt.Chart(pd.DataFrame({"x0": [0.0], "x1": [fr_m], "y0": [-0.04], "y1": [1.04]})).mark_rect(
        fillOpacity=0, stroke="#333333", strokeWidth=1).encode(
        x=alt.X("x0:Q", scale=X(), axis=xaxis), x2="x1:Q", y=alt.Y("y0:Q", scale=Y(), axis=yaxis), y2="y1:Q"))
    ci_rows = []
    for grp, lines in (("low", low_ci), ("high", high_ci)):
        for k, ln in enumerate(lines):
            ci_rows += [dict(t=t, s=s, grp=grp, line=f"{grp}{k}") for t, s in ln]
    L.append(alt.Chart(pd.DataFrame(ci_rows)).mark_line(interpolate="step-after", strokeWidth=0.8,
                                                         strokeDash=[1.5, 1.5]).encode(
        x=alt.X("t:Q", scale=X(), axis=None), y=alt.Y("s:Q", scale=Y(), axis=None),
        color=alt.Color("grp:N", scale=alt.Scale(domain=GRPS, range=[CI_BLUE, CI_RED]), legend=None),
        detail="line:N"))
    col = alt.Color("grp:N", scale=alt.Scale(domain=GRPS, range=[BLUE, RED]), legend=None)
    rows = [dict(t=t, s=s, grp="low") for t, s in low] + [dict(t=t, s=s, grp="high") for t, s in high]
    L.append(alt.Chart(pd.DataFrame(rows)).mark_line(interpolate="step-after", strokeWidth=1.3).encode(
        x=alt.X("t:Q", scale=X(), axis=None), y=alt.Y("s:Q", scale=Y(), axis=None), color=col))
    crow = [dict(t=t, s=step_val(low, t), grp="low") for t in lowc] + \
           [dict(t=t, s=step_val(high, t), grp="high") for t in highc]
    L.append(alt.Chart(pd.DataFrame(crow)).mark_point(shape=PLUS, filled=False, size=30, strokeWidth=0.9,
                                                       opacity=1).encode(
        x=alt.X("t:Q", scale=X(), axis=None), y=alt.Y("s:Q", scale=Y(), axis=None), color=col))
    L.append(label(title, (C["c0"] + C["fr"]) / 2, R["ty"], 12, align="center", color="#111111"))
    ls, le, ts, tr = C["leg"]
    L.append(hline(ls, le, ft + 10, BLUE, 1.3))
    L.append(hline(ls, le, ft + 18.6, RED, 1.3))
    L.append(label(f"Low {gene} Group\nHigh {gene} Group", ts, ft + 10, LEG_FS, lh=8.6, color="#222222"))
    L.append(label("\n".join(stats), tr, ft + 27, LEG_FS, align="right", lh=8.7, color="#222222"))
    return L


D_PANELS = [
    (0, 0, "Overall Survival", "CA12", OS_CA12_low, OS_CA12_high, OS_CA12_low_cens, OS_CA12_high_cens,
     [OS_CA12_low_up, OS_CA12_low_lo], [OS_CA12_high_up, OS_CA12_high_lo], OS_CA12_stats),
    (1, 0, "Overall Survival", "GMPS", OS_GMPS_low, OS_GMPS_high, OS_GMPS_low_cens, OS_GMPS_high_cens,
     [OS_GMPS_low_up, OS_GMPS_low_lo], [OS_GMPS_high_up, OS_GMPS_high_lo], OS_GMPS_stats),
    (2, 0, "Overall Survival", "PI4KB", OS_PI4KB_low, OS_PI4KB_high, OS_PI4KB_low_cens, OS_PI4KB_high_cens,
     [OS_PI4KB_low_up, OS_PI4KB_low_lo], [OS_PI4KB_high_up, OS_PI4KB_high_lo], OS_PI4KB_stats),
    (0, 1, "Disease Free Survival", "CA12", DFS_CA12_low, DFS_CA12_high, DFS_CA12_low_cens, DFS_CA12_high_cens,
     [DFS_CA12_low_up, DFS_CA12_low_lo], [DFS_CA12_high_up, DFS_CA12_high_lo], DFS_CA12_stats),
    (1, 1, "Disease Free Survival", "GMPS", DFS_GMPS_low, DFS_GMPS_high, DFS_GMPS_low_cens, DFS_GMPS_high_cens,
     [DFS_GMPS_low_up, DFS_GMPS_low_lo], [DFS_GMPS_high_up, DFS_GMPS_high_lo], DFS_GMPS_stats),
    (2, 1, "Disease Free Survival", "PI4KB", DFS_PI4KB_low, DFS_PI4KB_high, DFS_PI4KB_low_cens,
     DFS_PI4KB_high_cens, [DFS_PI4KB_low_up, DFS_PI4KB_low_lo], [DFS_PI4KB_high_up, DFS_PI4KB_high_lo],
     DFS_PI4KB_stats),
]
for c, r, title, gene, lo, hi, loc, hic, loci, hici, st in D_PANELS:
    layers += dpanel(D_COLS[c], D_ROWS[r], title, gene, lo, hi, loc, hic, loci, hici, st)
layers.append(label("D", 9.0, 1162.5, 19, font=SERIF, weight="bold", baseline="alphabetic", color="#000000"))

chart = alt.layer(*layers).resolve_scale(
    x="independent", y="independent", color="independent"
).resolve_axis(x="independent", y="independent").properties(
    width=W, height=H, autosize=alt.AutoSizeParams(type="none"), padding=0
).configure_view(strokeWidth=0).configure(background="white")

chart.save("out.html", embed_options={"renderer": "svg", "actions": False})
